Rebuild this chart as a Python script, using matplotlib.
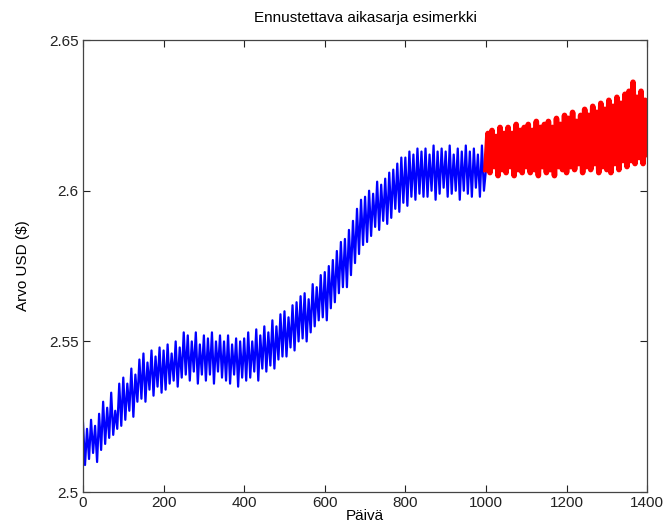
import numpy as np
import matplotlib
matplotlib.use("Agg")
import matplotlib.pyplot as plt

# observed series, sampled every 5 days (day 0..1000)
observed = [
    2.523, 2.509, 2.521, 2.511, 2.524, 2.513, 2.522, 2.510, 2.526, 2.514,
    2.530, 2.516, 2.528, 2.518, 2.533, 2.519, 2.527, 2.521, 2.536, 2.522,
    2.538, 2.524, 2.536, 2.527, 2.541, 2.525, 2.539, 2.530, 2.544, 2.531,
    2.546, 2.530, 2.543, 2.534, 2.547, 2.532, 2.545, 2.535, 2.548, 2.533,
    2.547, 2.534, 2.549, 2.536, 2.546, 2.537, 2.550, 2.535, 2.548, 2.538,
    2.553, 2.539, 2.552, 2.537, 2.550, 2.540, 2.553, 2.536, 2.549, 2.539,
    2.552, 2.537, 2.551, 2.539, 2.553, 2.536, 2.550, 2.540, 2.552, 2.538,
    2.550, 2.537, 2.552, 2.536, 2.549, 2.539, 2.551, 2.535, 2.550, 2.538,
    2.551, 2.537, 2.553, 2.538, 2.550, 2.540, 2.554, 2.537, 2.552, 2.541,
    2.555, 2.540, 2.553, 2.542, 2.557, 2.541, 2.555, 2.544, 2.559, 2.545,
    2.560, 2.545, 2.558, 2.548, 2.562, 2.547, 2.563, 2.550, 2.565, 2.551,
    2.566, 2.550, 2.564, 2.553, 2.569, 2.555, 2.568, 2.557, 2.572, 2.558,
    2.573, 2.557, 2.575, 2.561, 2.577, 2.563, 2.580, 2.566, 2.583, 2.568,
    2.584, 2.568, 2.587, 2.572, 2.590, 2.576, 2.594, 2.579, 2.597, 2.582,
    2.598, 2.583, 2.600, 2.585, 2.599, 2.588, 2.603, 2.587, 2.602, 2.590,
    2.604, 2.589, 2.606, 2.591, 2.607, 2.594, 2.609, 2.593, 2.611, 2.596,
    2.611, 2.595, 2.613, 2.598, 2.612, 2.597, 2.614, 2.599, 2.613, 2.598,
    2.614, 2.598, 2.612, 2.600, 2.615, 2.597, 2.613, 2.599, 2.614, 2.601,
    2.613, 2.598, 2.615, 2.599, 2.612, 2.600, 2.614, 2.597, 2.613, 2.600,
    2.615, 2.599, 2.613, 2.598, 2.614, 2.601, 2.612, 2.598, 2.615, 2.600,
    2.607,
]

# forecast, every 5 days (day 1000..1400)
forecast = [
    2.607, 2.619, 2.606, 2.620, 2.608, 2.618, 2.605, 2.621, 2.607, 2.619,
    2.606, 2.621, 2.608, 2.619, 2.605, 2.622, 2.607, 2.620, 2.606, 2.621,
    2.608, 2.622, 2.606, 2.620, 2.607, 2.623, 2.605, 2.621, 2.608, 2.622,
    2.606, 2.623, 2.607, 2.621, 2.605, 2.624, 2.608, 2.622, 2.607, 2.625,
    2.606, 2.624, 2.608, 2.626, 2.607, 2.623, 2.609, 2.625, 2.606, 2.627,
    2.608, 2.625, 2.607, 2.628, 2.609, 2.626, 2.606, 2.629, 2.608, 2.627,
    2.607, 2.630, 2.606, 2.628, 2.609, 2.631, 2.607, 2.629, 2.610, 2.632,
    2.608, 2.633, 2.610, 2.636, 2.609, 2.631, 2.611, 2.633, 2.609, 2.630,
    2.612,
]

days_obs = np.arange(0, 1001, 5)
days_fc = np.arange(1000, 1401, 5)

plt.rcParams['font.family'] = ['Liberation Sans', 'DejaVu Sans']

fig = plt.figure(figsize=(6.72, 5.23), dpi=100)
ax = fig.add_axes([0.1235, 0.059, 0.8395, 0.8645])

ax.plot(days_obs, observed, color='#0000ff', lw=1.6)
ax.plot(days_fc, forecast, color='#ff0000', lw=4.0)

ax.set_xlim(0, 1400)
ax.set_ylim(2.5, 2.65)
ax.set_xticks(np.arange(0, 1401, 200))
ax.set_yticks([2.5, 2.55, 2.6, 2.65])
ax.set_yticklabels(['2.5', '2.55', '2.6', '2.65'])

ax.tick_params(direction='in', top=True, right=True, length=5, width=0.8,
               labelsize=11, colors='#222222', pad=3)
for s in ax.spines.values():
    s.set_color('#444444')
    s.set_linewidth(0.9)

ax.set_title('Ennustettava aikasarja esimerkki', fontsize=11, pad=13)
ax.set_xlabel('Päivä', fontsize=11, labelpad=-1)
ax.set_ylabel('Arvo USD ($)', fontsize=11, labelpad=14)

fig.savefig('out.png', dpi=100)
